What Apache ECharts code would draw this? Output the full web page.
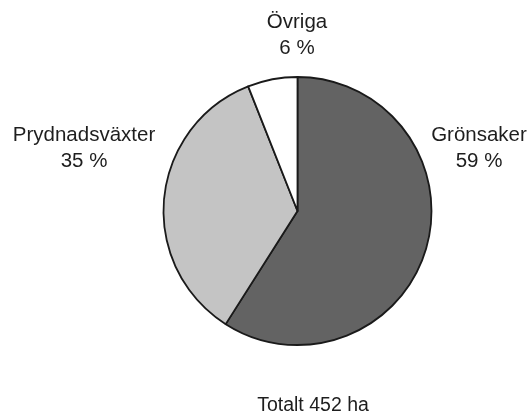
<!DOCTYPE html>
<html><head><meta charset="utf-8">
<script src="https://cdn.jsdelivr.net/npm/echarts@6/dist/echarts.min.js"></script>
<style>html,body{margin:0;padding:0;background:#fff}#c{width:530px;height:412px}</style>
</head><body><div id="c"></div>
<script>
const categories = ['Grönsaker', 'Prydnadsväxter', 'Övriga'];
const values = [59, 35, 6];
const footer = 'Totalt 452 ha';

const colors = ['#636363', '#c4c4c4', '#ffffff'];
const labelPos = [[479, 148], [84, 148], [297, 35]];

const chart = echarts.init(document.getElementById('c'), null, {renderer: 'canvas'});
chart.setOption({
  animation: false,
  backgroundColor: '#fff',
  title: {
    text: footer, left: 308, top: 391, textAlign: 'center',
    textStyle: {fontFamily: 'Liberation Sans, Arial', fontSize: 19.5, fontWeight: 'normal', color: '#1e1e1e'}
  },
  series: [{
    type: 'pie',
    center: [297.5, 211],
    radius: [0, 134],
    startAngle: 90,
    clockwise: true,
    avoidLabelOverlap: false,
    data: categories.map((c, i) => ({name: c, value: values[i], itemStyle: {color: colors[i]}})),
    itemStyle: {borderColor: '#1a1a1a', borderWidth: 1.8},
    label: {
      show: true, position: 'outside',
      formatter: p => p.name + '\n' + p.value + ' %',
      fontFamily: 'Liberation Sans, Arial', fontSize: 20.5, color: '#1e1e1e',
      lineHeight: 26, align: 'center'
    },
    labelLine: {show: false},
    labelLayout: p => ({x: labelPos[p.dataIndex][0], y: labelPos[p.dataIndex][1], align: 'center', verticalAlign: 'middle'}),
    emphasis: {disabled: true}
  }]
});
</script></body></html>
